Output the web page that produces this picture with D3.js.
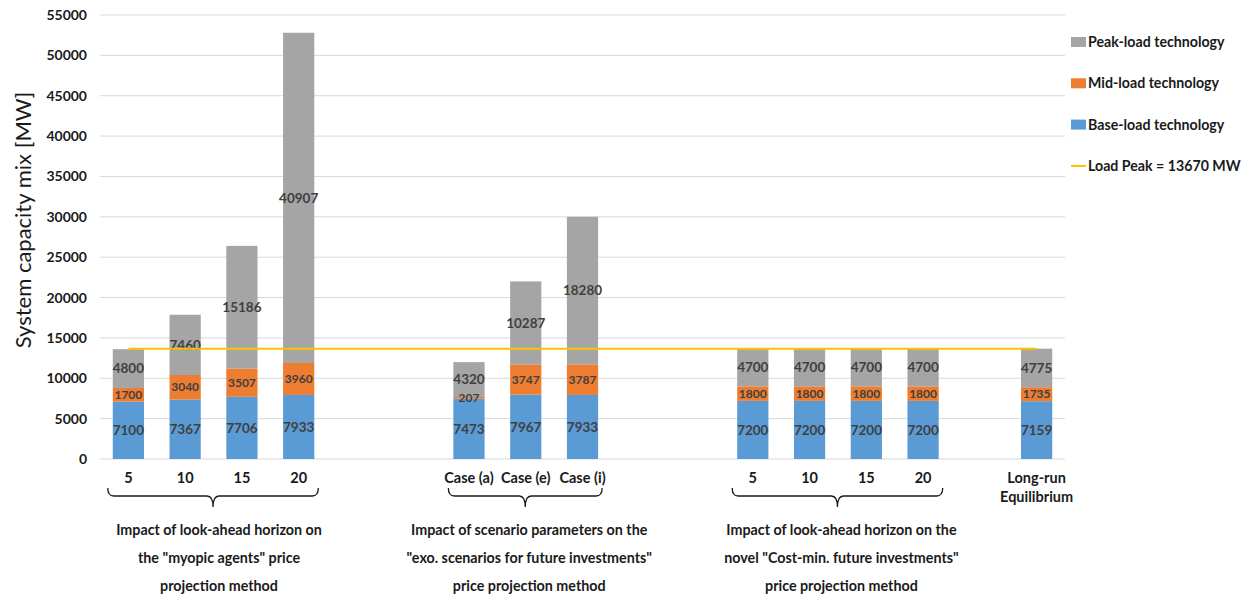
<!DOCTYPE html>
<html>
<head>
<meta charset="utf-8">
<script src="https://cdn.jsdelivr.net/npm/d3@7"></script>
<style>
  html, body { margin: 0; padding: 0; background: #fff; }
  svg { display: block; font-family: Lato, "Open Sans", sans-serif; }
</style>
</head>
<body>
<svg id="chart" width="1244" height="596"></svg>
<script>
// Category slots (blank slots separate the groups)
const categories = ["5", "10", "15", "20", "", "", "Case (a)", "Case (e)", "Case (i)", "", "",
                    "5", "10", "15", "20", "", "Long-run|Equilibrium"];
// Capacity per technology [MW]; null where a slot is empty
const baseLoad = [7100, 7367, 7706, 7933, null, null, 7473, 7967, 7933, null, null, 7200, 7200, 7200, 7200, null, 7159];
const midLoad  = [1700, 3040, 3507, 3960, null, null, 207, 3747, 3787, null, null, 1800, 1800, 1800, 1800, null, 1735];
const peakLoad = [4800, 7460, 15186, 40907, null, null, 4320, 10287, 18280, null, null, 4700, 4700, 4700, 4700, null, 4775];
const loadPeak = 13670;
const yTicks = [0, 5000, 10000, 15000, 20000, 25000, 30000, 35000, 40000, 45000, 50000, 55000];
const legendLabels = ["Peak-load technology", "Mid-load technology", "Base-load technology", "Load Peak = 13670 MW"];
// Group captions: [first slot, last slot, caption lines]
const groups = [
  [0, 3, ["Impact of look-ahead horizon on", "the \"myopic agents\" price", "projection method"]],
  [6, 8, ["Impact of scenario parameters on the", "\"exo. scenarios for future investments\"", "price projection method"]],
  [11, 14, ["Impact of look-ahead horizon on the", "novel \"Cost-min. future investments\"", "price projection method"]]
];

const colors = { base: "#5B9BD5", mid: "#ED7D31", peak: "#A5A5A5", line: "#FFC000" };
const ink = "#1a1a1a";

const svg = d3.select("#chart");
const keys = categories.map((c, i) => "k" + i);

const x = d3.scaleBand().domain(keys).range([100, 1065]).paddingInner(0.45).paddingOuter(0.225);
const y = d3.scaleLinear().domain([0, 55000]).range([459, 15]);

// Gridlines
svg.append("g").selectAll("line").data(yTicks).join("line")
  .attr("x1", 100).attr("x2", 1065)
  .attr("y1", d => y(d)).attr("y2", d => y(d))
  .attr("stroke", "#D9D9D9").attr("stroke-width", 1);

// Y axis tick labels
const yAxis = d3.axisLeft(y).tickValues(yTicks).tickSize(0).tickPadding(0).tickFormat(d3.format("d"));
const gy = svg.append("g").attr("transform", "translate(87,0)").call(yAxis);
gy.select(".domain").remove();
gy.selectAll("text").attr("font-size", 14).attr("font-weight", "bold").attr("fill", ink)
  .attr("font-family", "Lato, sans-serif");

// Y axis title
svg.append("text")
  .attr("transform", "translate(31,220) rotate(-90)")
  .attr("text-anchor", "middle")
  .attr("font-size", 22).attr("fill", ink)
  .text("System capacity mix [MW]");

// Stacked bars
const rows = keys.map((k, i) => ({ key: k, base: baseLoad[i], mid: midLoad[i], peak: peakLoad[i] }))
  .filter(r => r.base != null);
const stack = d3.stack().keys(["base", "mid", "peak"]);
const layers = stack(rows);

const gBars = svg.append("g");
layers.forEach(layer => {
  gBars.append("g").attr("fill", colors[layer.key])
    .selectAll("rect").data(layer).join("rect")
    .attr("x", d => x(d.data.key))
    .attr("width", x.bandwidth())
    .attr("y", d => y(d[1]))
    .attr("height", d => y(d[0]) - y(d[1]));
});

// Value labels centred in each segment
const labelSize = { base: 13.5, mid: 12, peak: 13.5 };
layers.forEach(layer => {
  gBars.append("g").selectAll("text").data(layer).join("text")
    .attr("x", d => x(d.data.key) + x.bandwidth() / 2)
    .attr("y", d => y((d[0] + d[1]) / 2))
    .attr("dy", "0.35em")
    .attr("text-anchor", "middle")
    .attr("font-size", labelSize[layer.key])
    .attr("font-weight", "bold")
    .attr("fill", "#404040")
    .text(d => d.data[layer.key]);
});

// Load peak line across the categories
const firstKey = keys[0], lastKey = keys[keys.length - 1];
svg.append("line")
  .attr("x1", x(firstKey) + x.bandwidth() / 2)
  .attr("x2", x(lastKey) + x.bandwidth() / 2)
  .attr("y1", y(loadPeak)).attr("y2", y(loadPeak))
  .attr("stroke", colors.line).attr("stroke-width", 2);

// Category labels
const gCat = svg.append("g");
categories.forEach((c, i) => {
  if (!c) return;
  const lines = c.split("|");
  const cx = x(keys[i]) + x.bandwidth() / 2;
  const t = gCat.append("text")
    .attr("x", cx)
    .attr("y", 483)
    .attr("text-anchor", "middle")
    .attr("font-size", 14.5).attr("font-weight", "bold").attr("fill", ink);
  lines.forEach((ln, j) => {
    t.append("tspan").attr("x", cx).attr("dy", j === 0 ? 0 : 19).text(ln);
  });
});

// Curly braces under the groups with their captions
const gBr = svg.append("g");
groups.forEach(([a, b, lines]) => {
  const x0 = x(keys[a]) - 5;
  const x1 = x(keys[b]) + x.bandwidth() + 4;
  const xm = (x0 + x1) / 2;
  const yt = 488, ym = 496, yb = 507, r = 6;
  const p = `M${x0},${yt} Q${x0},${ym} ${x0 + r},${ym} L${xm - r},${ym} Q${xm},${ym} ${xm},${yb}` +
            ` Q${xm},${ym} ${xm + r},${ym} L${x1 - r},${ym} Q${x1},${ym} ${x1},${yt}`;
  gBr.append("path").attr("d", p).attr("fill", "none").attr("stroke", ink).attr("stroke-width", 1.3);
  const cx = xm + (a === 0 ? 6 : 4);
  lines.forEach((ln, j) => {
    gBr.append("text")
      .attr("x", cx).attr("y", 535 + j * 28)
      .attr("text-anchor", "middle")
      .attr("font-size", 14.3).attr("font-weight", "bold").attr("fill", ink)
      .text(ln);
  });
});

// Legend
const gLeg = svg.append("g");
const legColors = [colors.peak, colors.mid, colors.base, colors.line];
legendLabels.forEach((lab, i) => {
  const ly = 42 + i * 41.3;
  if (i < 3) {
    gLeg.append("rect").attr("x", 1071).attr("y", ly - 5).attr("width", 15).attr("height", 10).attr("fill", legColors[i]);
  } else {
    gLeg.append("line").attr("x1", 1071).attr("x2", 1086).attr("y1", ly).attr("y2", ly)
      .attr("stroke", legColors[i]).attr("stroke-width", 2);
  }
  gLeg.append("text").attr("x", 1088).attr("y", ly).attr("dy", "0.35em")
    .attr("font-size", 14.2).attr("font-weight", "bold").attr("fill", ink)
    .text(lab);
});
</script>
</body>
</html>
